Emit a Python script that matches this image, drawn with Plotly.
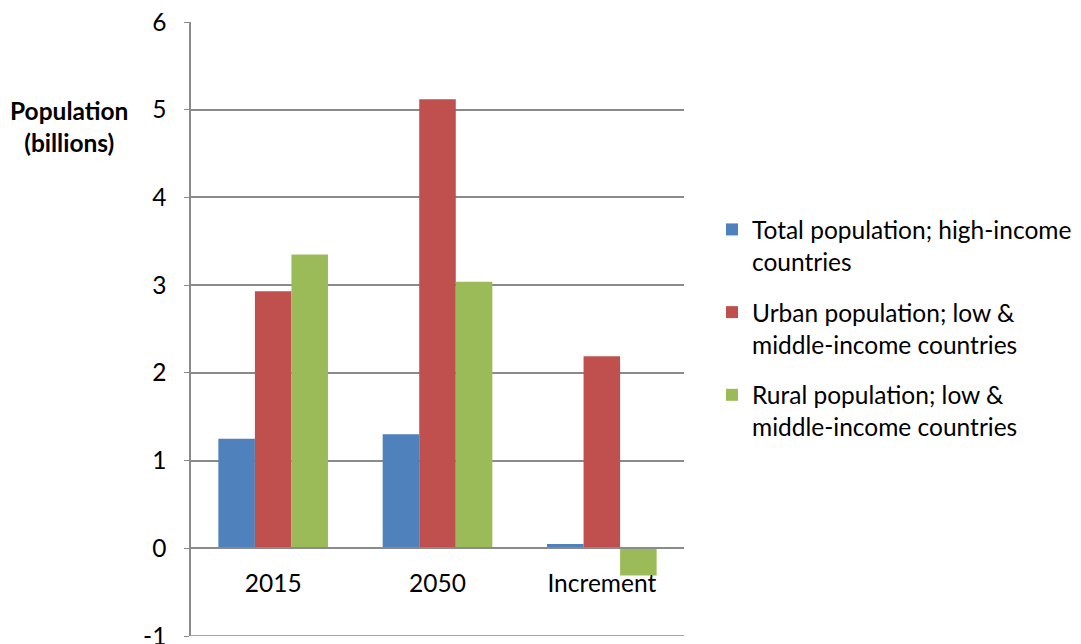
import plotly.graph_objects as go

# Categories and series values (billions)
categories = ["2015", "2050", "Increment"]
high_income_total = [1.25, 1.30, 0.05]
lmic_urban = [2.93, 5.12, 2.19]
lmic_rural = [3.35, 3.04, -0.31]

series_names = [
    "Total population; high-income<br>countries",
    "Urban population; low &<br>middle-income countries",
    "Rural population; low &<br>middle-income countries",
]
series_values = [high_income_total, lmic_urban, lmic_rural]
series_colors = ["#4F81BD", "#C0504D", "#9BBB59"]

y_ticks = [-1, 0, 1, 2, 3, 4, 5, 6]

FONT = "Lato"
FS = 24.5
GRID = "#8a8a8a"

fig = go.Figure()
for i, (name, vals, col) in enumerate(zip(series_names, series_values, series_colors)):
    fig.add_trace(go.Bar(
        x=categories, y=vals, name=name,
        marker=dict(color=col, line=dict(width=0)),
        legendgroup=f"g{i}",
    ))

W, H = 1081, 644
left, right, top, bottom = 191, 397, 22, 8
plot_w = W - left - right
plot_h = H - top - bottom

fig.update_layout(
    width=W, height=H,
    margin=dict(l=left, r=right, t=top, b=bottom, autoexpand=False),
    paper_bgcolor="white", plot_bgcolor="white",
    barmode="group", bargap=0.333, bargroupgap=0,
    font=dict(family=FONT, size=FS, color="#000000"),
    legend=dict(
        x=(712 - left) / plot_w, xanchor="left",
        y=(636 - 207) / plot_h, yanchor="top",
        font=dict(family=FONT, size=FS, color="#000000"),
        tracegroupgap=16,
        itemwidth=30,
        valign="top",
        bgcolor="rgba(0,0,0,0)",
    ),
    xaxis=dict(
        anchor="free", position=1 / 7,
        showline=True, linecolor=GRID, linewidth=1.5,
        showgrid=False, ticks="", ticklabelstandoff=14,
        tickfont=dict(family=FONT, size=FS),
        automargin=False,
    ),
    yaxis=dict(
        range=[-1, 6], domain=[0, 1],
        tickvals=y_ticks, ticktext=[str(v) for v in y_ticks],
        showgrid=True, gridcolor=GRID, gridwidth=1.5,
        zeroline=True, zerolinecolor=GRID, zerolinewidth=1.5,
        showline=True, linecolor=GRID, linewidth=1.5,
        ticks="outside", ticklen=5, tickcolor=GRID, tickwidth=1,
        ticklabelstandoff=13, ticklabeloverflow="allow",
        tickfont=dict(family=FONT, size=FS),
        automargin=False,
    ),
    shapes=[dict(
        type="line", xref="paper", yref="y",
        x0=0, x1=1, y0=-1, y1=-1,
        line=dict(color=GRID, width=1.5), layer="below",
    )],
    annotations=[dict(
        text="<b>Population<br>(billions)</b>",
        xref="paper", yref="paper",
        x=(69 - left) / plot_w, y=(636 - 127) / plot_h,
        xanchor="center", yanchor="middle",
        showarrow=False, align="center",
        font=dict(family=FONT, size=FS, color="#000000"),
    )],
)

fig.write_html("out.html")
